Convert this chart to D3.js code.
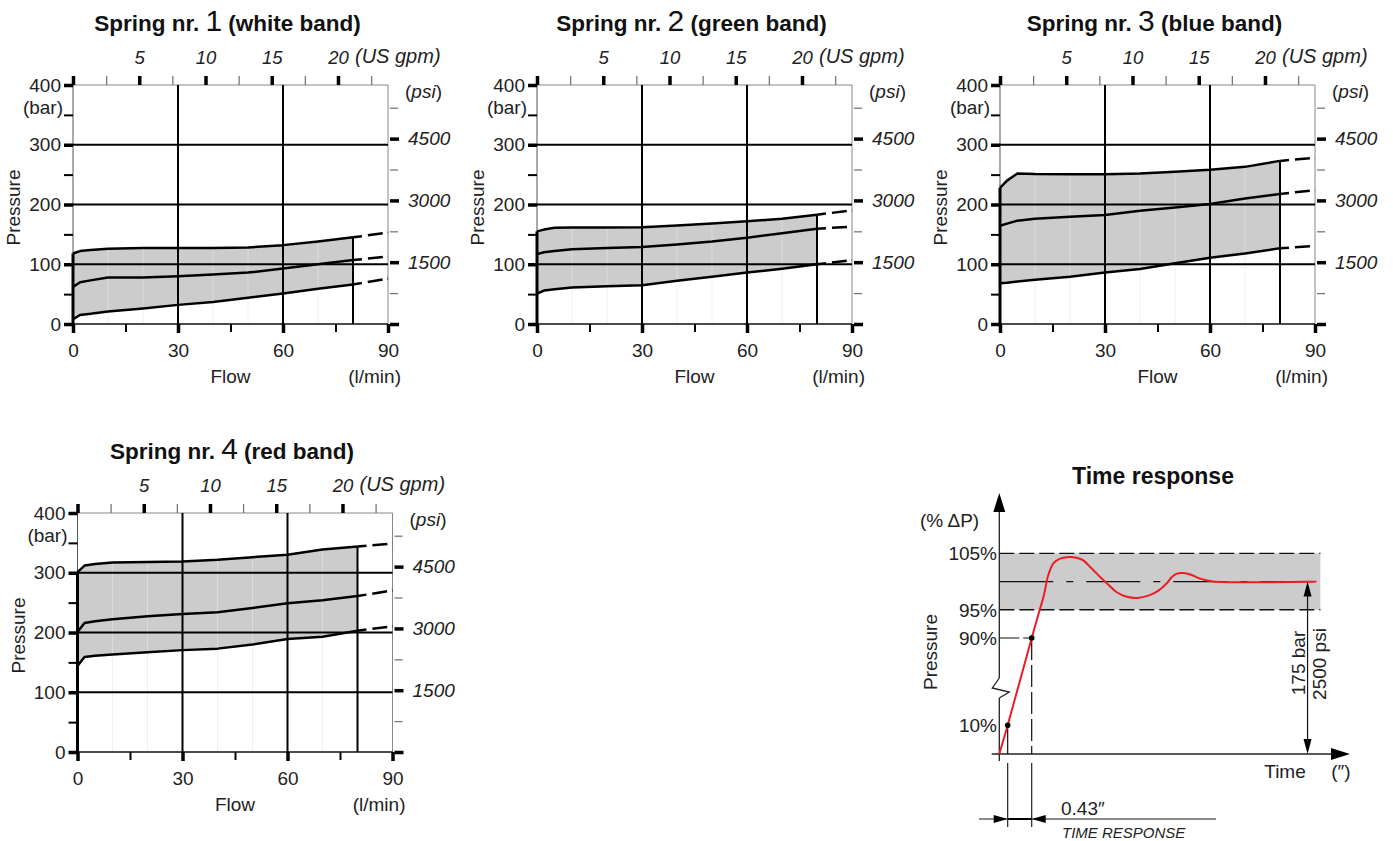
<!DOCTYPE html>
<html><head><meta charset="utf-8">
<script src="https://cdn.jsdelivr.net/npm/d3@7"></script>
<style>
body{margin:0;background:#fff}
svg{display:block;font-family:"Liberation Sans",Arial,sans-serif}
</style></head><body>
<svg id="c" width="1393" height="841"></svg>
<script>
// ---------- data ----------
const flowPts = [0, 2, 5, 10, 20, 30, 40, 50, 60, 70, 80];
const flowExt = [80, 90];

const spring1Upper  = [118, 122, 124, 126, 127, 127, 127, 128, 132, 138, 145];
const spring1Middle = [62, 70, 73, 78, 78, 80, 83, 86, 93, 100, 107];
const spring1Lower  = [8, 15, 17, 21, 26, 32, 37, 44, 51, 59, 66];
const spring1Ext    = [153, 113, 76];

const spring2Upper  = [155, 158, 161, 161.5, 161.5, 162, 165, 168, 172, 176, 183];
const spring2Middle = [117, 120, 122, 125, 127, 129, 133, 138, 144.5, 152, 159.5];
const spring2Lower  = [51, 56, 58, 61, 63, 65, 72.5, 79, 86, 92.5, 100];
const spring2Ext    = [190, 163, 107];

const spring3Upper  = [228, 240, 252, 251, 250.5, 250.5, 252, 255, 258, 263, 273];
const spring3Middle = [164.5, 168, 173, 176, 179.6, 182.4, 189.6, 195, 201, 210, 217.6];
const spring3Lower  = [68, 69, 71, 74, 79, 86, 92, 101.5, 111, 118, 126.7];
const spring3Ext    = [278, 224, 130.5];

const spring4Upper  = [301, 312, 314.5, 317, 318, 319, 321.7, 326, 330, 339, 344];
const spring4Middle = [201, 216, 219, 222, 227, 231, 234, 241, 249, 254, 261];
const spring4Lower  = [144, 159, 161, 163, 167, 170.5, 173, 180, 189, 193, 203];
const spring4Ext    = [349, 270.5, 210.5];

const springNums  = ["1", "2", "3", "4"];
const springBands = ["(white band)", "(green band)", "(blue band)", "(red band)"];

const flowMajor = [0, 30, 60, 90], flowMinor = [15, 45, 75];
const barMajor = [0, 100, 200, 300, 400], barMinor = [50, 150, 250, 350];
const gpmMajor = [0, 5, 10, 15, 20], gpmMinor = [2.5, 7.5, 12.5, 17.5, 22.5];
const psiMajor = [0, 1500, 3000, 4500], psiMinor = [750, 2250, 3750, 5250];
const gridBar = [100, 200, 300], gridFlow = [30, 60], faintFlow = [10, 20, 40, 50, 70];

// time response
const respTime = [0, 0.15, 0.58, 0.724, 0.80, 0.87, 0.968, 1.088, 1.28, 1.477, 1.656, 1.805, 1.925, 2.104, 2.283, 2.473, 2.67, 2.85, 3.0, 3.09, 3.18, 3.3, 3.42, 3.6, 3.83, 5.68];
const respPct  = [0, 10, 90, 95, 97.6, 100.9, 103.2, 104.05, 104.35, 103.9, 102.3, 100.8, 99.7, 98.1, 97.3, 97.1, 97.5, 98.4, 99.7, 100.8, 101.4, 101.5, 101.25, 100.5, 100, 100];
const pctTicks = [105, 95, 90, 10];
const t10 = 0.15, t90 = 0.58, tEnd = 5.75, tArrow = 5.52;

// ---------- layout ----------
const svg = d3.select("#c");
const W = 315, H = 239;
const panels = [
  {ox: 73, oy: 85}, {ox: 537, oy: 85}, {ox: 1000, oy: 85}, {ox: 77.5, oy: 513}
];
const allData = [
  [spring1Upper, spring1Middle, spring1Lower, spring1Ext],
  [spring2Upper, spring2Middle, spring2Lower, spring2Ext],
  [spring3Upper, spring3Middle, spring3Lower, spring3Ext],
  [spring4Upper, spring4Middle, spring4Lower, spring4Ext]
];

function styleAxis(sel, width, color, fs, italic) {
  sel.select(".domain").remove();
  sel.attr("font-family", null).attr("font-size", null);
  sel.selectAll(".tick line").attr("stroke", color).attr("stroke-width", width);
  sel.selectAll(".tick text").attr("font-size", fs).attr("fill", "#222")
     .attr("font-style", italic ? "italic" : "normal");
}

panels.forEach((p, i) => {
  const [up, mid, low, ext] = allData[i];
  const g = svg.append("g").attr("transform", `translate(${p.ox},${p.oy})`);
  const x = d3.scaleLinear().domain([0, 90]).range([0, W]);
  const y = d3.scaleLinear().domain([0, 400]).range([H, 0]);
  const gpm = d3.scaleLinear().domain([0, 90 * 0.264172]).range([0, W]);
  const psi = d3.scaleLinear().domain([0, 400 * 14.5038]).range([H, 0]);

  // band
  const area = d3.area().x((d, k) => x(flowPts[k])).y0((d, k) => y(low[k])).y1(d => y(d));
  g.append("path").datum(up).attr("d", area).attr("fill", "#cccccc");

  // faint lines (below band and inside band)
  faintFlow.forEach(f => {
    const k = flowPts.indexOf(f);
    g.append("line").attr("x1", x(f)).attr("x2", x(f)).attr("y1", y(0)).attr("y2", y(low[k]))
      .attr("stroke", "#f0f0f0").attr("stroke-width", 1);
    g.append("line").attr("x1", x(f)).attr("x2", x(f)).attr("y1", y(low[k])).attr("y2", y(up[k]))
      .attr("stroke", "#dcdcdc").attr("stroke-width", 1);
  });

  // frame
  g.append("line").attr("x1", 0).attr("x2", W).attr("y1", 0).attr("y2", 0).attr("stroke", "#888").attr("stroke-width", 1);
  g.append("line").attr("x1", W).attr("x2", W).attr("y1", 0).attr("y2", H).attr("stroke", "#888").attr("stroke-width", 1);
  g.append("line").attr("x1", 0).attr("x2", 0).attr("y1", 0).attr("y2", H).attr("stroke", "#555").attr("stroke-width", 1);
  g.append("line").attr("x1", 0).attr("x2", W).attr("y1", H).attr("y2", H).attr("stroke", "#111").attr("stroke-width", 1.5);

  // grid
  g.selectAll(".gh").data(gridBar).join("line")
    .attr("x1", 0).attr("x2", W).attr("y1", d => y(d)).attr("y2", d => y(d))
    .attr("stroke", "#000").attr("stroke-width", 2);
  g.selectAll(".gv").data(gridFlow).join("line")
    .attr("x1", d => x(d)).attr("x2", d => x(d)).attr("y1", 0).attr("y2", H)
    .attr("stroke", "#000").attr("stroke-width", 2);

  // envelope edges
  g.append("line").attr("x1", x(0)).attr("x2", x(0)).attr("y1", y(0)).attr("y2", y(up[0]))
    .attr("stroke", "#000").attr("stroke-width", 3);
  g.append("line").attr("x1", x(80)).attr("x2", x(80)).attr("y1", y(0)).attr("y2", y(up[up.length - 1]))
    .attr("stroke", "#000").attr("stroke-width", 2);

  // curves
  const line = d3.line().x((d, k) => x(flowPts[k])).y(d => y(d));
  [up, mid, low].forEach((c, k) => {
    g.append("path").datum(c).attr("d", line).attr("fill", "none")
      .attr("stroke", "#000").attr("stroke-width", 2.5).attr("stroke-linejoin", "round");
    const e = [c[c.length - 1], ext[k]];
    g.append("path").datum(e).attr("d", d3.line().x((d, j) => x(flowExt[j])).y(d => y(d)))
      .attr("fill", "none").attr("stroke", "#000").attr("stroke-width", 2.5)
      .attr("stroke-dasharray", "9,6,15,5");
  });

  // axes
  const fmt0 = d => d === 0 ? "" : d;
  g.append("g").attr("transform", `translate(0,${H})`)
    .call(d3.axisBottom(x).tickValues(flowMajor).tickSize(9).tickPadding(11))
    .call(s => styleAxis(s, 3.5, "#000", 19, false));
  g.append("g").attr("transform", `translate(0,${H})`)
    .call(d3.axisBottom(x).tickValues(flowMinor).tickSize(8).tickFormat(""))
    .call(s => styleAxis(s, 2, "#000", 19, false));
  g.append("g")
    .call(d3.axisLeft(y).tickValues(barMajor).tickSize(9).tickPadding(3))
    .call(s => styleAxis(s, 3.5, "#000", 19, false));
  g.append("g")
    .call(d3.axisLeft(y).tickValues(barMinor).tickSize(9).tickFormat(""))
    .call(s => styleAxis(s, 2, "#000", 19, false));
  g.append("g")
    .call(d3.axisTop(gpm).tickValues(gpmMajor).tickSize(9).tickPadding(12).tickFormat(fmt0))
    .call(s => styleAxis(s, 3.5, "#000", 18.5, true));
  g.append("g")
    .call(d3.axisTop(gpm).tickValues(gpmMinor).tickSize(9).tickFormat(""))
    .call(s => styleAxis(s, 1.3, "#777", 18.5, true));
  g.append("g").attr("transform", `translate(${W + 2},0)`)
    .call(d3.axisRight(psi).tickValues(psiMajor).tickSize(9).tickPadding(9).tickFormat(fmt0))
    .call(s => styleAxis(s, 3.5, "#000", 19, true));
  g.append("g").attr("transform", `translate(${W + 2},0)`)
    .call(d3.axisRight(psi).tickValues(psiMinor).tickSize(8).tickFormat(""))
    .call(s => styleAxis(s, 1.3, "#777", 19, true));

  // labels
  const txt = (tx, ty, s, opts = {}) => g.append("text").attr("x", tx).attr("y", ty)
    .attr("font-size", opts.fs || 19).attr("fill", "#222").attr("text-anchor", opts.anchor || "start")
    .attr("font-style", opts.italic ? "italic" : "normal").text(s);
  txt(-10, 29, "(bar)", {anchor: "end"});
  txt(x(45), H + 59, "Flow", {anchor: "middle"});
  txt(W + 13, H + 59, "(l/min)", {anchor: "end"});
  txt(282, -22, "(US gpm)", {italic: true, fs: 20});
  const psiT = g.append("text").attr("x", W + 17).attr("y", 13).attr("font-size", 19).attr("fill", "#222");
  psiT.append("tspan").text("(");
  psiT.append("tspan").attr("font-style", "italic").text("psi");
  psiT.append("tspan").text(")");
  g.append("text").attr("transform", `translate(-53,${H / 2 + 3}) rotate(-90)`)
    .attr("text-anchor", "middle").attr("font-size", 19).attr("fill", "#222").text("Pressure");

  // title
  const t = g.append("text").attr("x", W / 2 - 3).attr("y", -54).attr("text-anchor", "middle")
    .attr("fill", "#111");
  t.append("tspan").attr("font-weight", "bold").attr("font-size", 22.5).text("Spring nr. ");
  t.append("tspan").attr("font-size", 30).text(springNums[i]);
  t.append("tspan").attr("font-weight", "bold").attr("font-size", 22.5).text(" " + springBands[i]);
});

// ---------- time response ----------
const tr = svg.append("g");
const tx = d3.scaleLinear().domain([0, 6.28]).range([999.3, 1350]);
const py = d3.scaleLinear().domain([0, 10, 90, 105]).range([754, 725.3, 638, 553.3]);

// band
tr.append("rect").attr("x", tx(0)).attr("y", py(105)).attr("width", tx(tEnd) - tx(0))
  .attr("height", py(95) - py(105)).attr("fill", "#cccccc");
[105, 95].forEach(v => tr.append("line").attr("x1", tx(0)).attr("x2", tx(tEnd))
  .attr("y1", py(v)).attr("y2", py(v)).attr("stroke", "#111").attr("stroke-width", 1.3)
  .attr("stroke-dasharray", "15,5"));
tr.append("line").attr("x1", tx(0)).attr("x2", tx(tEnd)).attr("y1", py(100)).attr("y2", py(100))
  .attr("stroke", "#111").attr("stroke-width", 1.3).attr("stroke-dasharray", "54,13,7,13");

// axes
const x0 = tx(0), yb = py(0);
tr.append("line").attr("x1", x0).attr("x2", x0).attr("y1", 761).attr("y2", 698)
  .attr("stroke", "#222").attr("stroke-width", 1.3);
tr.append("polyline").attr("points", `${x0},678 ${x0 - 7},688 ${x0 + 10},692 ${x0},698`)
  .attr("fill", "none").attr("stroke", "#222").attr("stroke-width", 1.3).attr("stroke-linejoin", "miter");
tr.append("line").attr("x1", x0).attr("x2", x0).attr("y1", 678).attr("y2", 505)
  .attr("stroke", "#222").attr("stroke-width", 1.3);
tr.append("path").attr("d", `M${x0},493 L${x0 - 6},512 L${x0 + 6},512 Z`).attr("fill", "#000");
tr.append("line").attr("x1", 991.7).attr("x2", 1338).attr("y1", yb).attr("y2", yb)
  .attr("stroke", "#222").attr("stroke-width", 1.3);
tr.append("path").attr("d", `M1350,${yb} L1331,${yb - 6} L1331,${yb + 6} Z`).attr("fill", "#000");

// helper lines
tr.append("line").attr("x1", x0).attr("x2", tx(t90)).attr("y1", py(90)).attr("y2", py(90))
  .attr("stroke", "#111").attr("stroke-width", 1.2).attr("stroke-dasharray", "20,4");
tr.append("line").attr("x1", tx(t90)).attr("x2", tx(t90)).attr("y1", py(90)).attr("y2", yb)
  .attr("stroke", "#111").attr("stroke-width", 1.2).attr("stroke-dasharray", "22,5");
tr.append("line").attr("x1", tx(t10)).attr("x2", tx(t10)).attr("y1", py(10)).attr("y2", yb)
  .attr("stroke", "#111").attr("stroke-width", 1.2);
[t10, t90].forEach(t => tr.append("line").attr("x1", tx(t)).attr("x2", tx(t)).attr("y1", 763).attr("y2", 827)
  .attr("stroke", "#222").attr("stroke-width", 1.2));

// red response curve
tr.append("path").datum(respTime)
  .attr("d", d3.line().x(d => tx(d)).y((d, k) => py(respPct[k])).curve(d3.curveCatmullRom.alpha(0.5)))
  .attr("fill", "none").attr("stroke", "#ee1c25").attr("stroke-width", 2);
[[t10, 10], [t90, 90]].forEach(([t, v]) => tr.append("circle").attr("cx", tx(t)).attr("cy", py(v))
  .attr("r", 2.8).attr("fill", "#000"));

// 175 bar arrow
const xa = tx(tArrow);
tr.append("line").attr("x1", xa).attr("x2", xa).attr("y1", py(100) + 10).attr("y2", yb - 10)
  .attr("stroke", "#111").attr("stroke-width", 1.2);
tr.append("path").attr("d", `M${xa},${py(100)} L${xa - 4},${py(100) + 15} L${xa + 4},${py(100) + 15} Z`).attr("fill", "#000");
tr.append("path").attr("d", `M${xa},${yb} L${xa - 4},${yb - 15} L${xa + 4},${yb - 15} Z`).attr("fill", "#000");

// dimension line
const yd = 819;
tr.append("line").attr("x1", 979).attr("x2", 1216).attr("y1", yd).attr("y2", yd).attr("stroke", "#666").attr("stroke-width", 1.3);
tr.append("line").attr("x1", tx(t10)).attr("x2", tx(t90)).attr("y1", yd).attr("y2", yd).attr("stroke", "#000").attr("stroke-width", 2);
tr.append("path").attr("d", `M${tx(t10)},${yd} L${tx(t10) - 14},${yd - 4} L${tx(t10) - 14},${yd + 4} Z`).attr("fill", "#000");
tr.append("path").attr("d", `M${tx(t90)},${yd} L${tx(t90) + 14},${yd - 4} L${tx(t90) + 14},${yd + 4} Z`).attr("fill", "#000");

// texts
const T = (x, y, s, o = {}) => tr.append("text").attr("x", x).attr("y", y).attr("font-size", o.fs || 19)
  .attr("fill", "#222").attr("text-anchor", o.anchor || "start").attr("font-style", o.italic ? "italic" : "normal")
  .attr("font-weight", o.bold ? "bold" : "normal").text(s);
T(1153, 484, "Time response", {anchor: "middle", bold: true, fs: 23}).attr("fill", "#111");
T(920, 527, "(% ΔP)");
pctTicks.forEach(v => T(997, py(v) + 7, v + "%", {anchor: "end"}));
tr.append("text").attr("transform", "translate(937,652) rotate(-90)").attr("text-anchor", "middle")
  .attr("font-size", 19).attr("fill", "#222").text("Pressure");
tr.append("text").attr("transform", "translate(1305,663) rotate(-90)").attr("text-anchor", "middle")
  .attr("font-size", 19).attr("fill", "#222").text("175 bar");
tr.append("text").attr("transform", "translate(1326,664) rotate(-90)").attr("text-anchor", "middle")
  .attr("font-size", 19).attr("fill", "#222").text("2500 psi");
T(1285, 778, "Time", {anchor: "middle"});
T(1341, 778, "(″)", {anchor: "middle"});
T(1061, 815, "0.43″");
T(1062, 838, "TIME RESPONSE", {italic: true, fs: 15});
</script>
</body></html>
